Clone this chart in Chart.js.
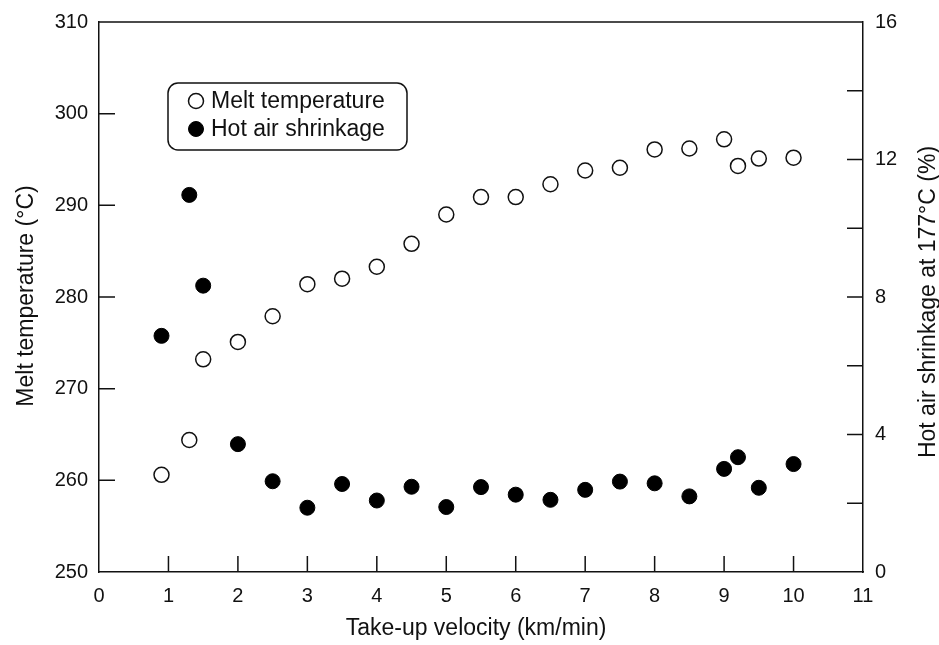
<!DOCTYPE html>
<html lang="en">
<head>
<meta charset="UTF-8">
<title>Melt temperature and hot air shrinkage vs take-up velocity</title>
<script src="https://cdn.jsdelivr.net/npm/chart.js"></script>
<style>
  html, body { margin: 0; padding: 0; background: #fff; }
  #wrap { width: 939px; height: 645px; }
</style>
</head>
<body>
<div id="wrap"><canvas id="chart"></canvas></div>
<script>
// take-up velocity (km/min), shared by both series
const velocity = [0.9, 1.3, 1.5, 2.0, 2.5, 3.0, 3.5, 4.0, 4.5, 5.0, 5.5, 6.0, 6.5, 7.0, 7.5, 8.0, 8.5, 9.0, 9.2, 9.5, 10.0];
// melt temperature (°C), left axis
const meltTemp = [260.6, 264.4, 273.2, 275.1, 277.9, 281.4, 282.0, 283.3, 285.8, 289.0, 290.9, 290.9, 292.3, 293.8, 294.1, 296.1, 296.2, 297.2, 294.3, 295.1, 295.2];
// hot air shrinkage at 177°C (%), right axis
const shrinkage = [6.87, 10.97, 8.33, 3.72, 2.64, 1.87, 2.56, 2.08, 2.48, 1.89, 2.47, 2.25, 2.10, 2.39, 2.63, 2.58, 2.20, 3.00, 3.34, 2.45, 3.14];

// inward tick marks
const xTickMarks = [1, 2, 3, 4, 5, 6, 7, 8, 9, 10];
const leftTickMarks = [260, 270, 280, 290, 300];
const rightTickMarks = [2, 4, 6, 8, 10, 12, 14];

const xTitle = 'Take-up velocity (km/min)';
const leftTitle = 'Melt temperature (°C)';
const rightTitle = 'Hot air shrinkage at 177°C (%)';

const FONT = "'Liberation Sans', Arial, Helvetica, sans-serif";
const INK = '#111';

Chart.defaults.font.family = FONT;
Chart.defaults.color = INK;

const toXY = (ys) => velocity.map((x, i) => ({ x, y: ys[i] }));

const frame = {
  id: 'frame',
  beforeDatasetsDraw(chart) {
    const { ctx, chartArea: a, scales } = chart;
    const len = 16;
    ctx.save();
    ctx.strokeStyle = INK;
    ctx.lineWidth = 1.5;
    ctx.beginPath();
    // top edge of the box
    ctx.moveTo(a.left, a.top);
    ctx.lineTo(a.right, a.top);
    xTickMarks.forEach(v => {
      const px = scales.x.getPixelForValue(v);
      ctx.moveTo(px, a.bottom);
      ctx.lineTo(px, a.bottom - len);
    });
    leftTickMarks.forEach(v => {
      const py = scales.y.getPixelForValue(v);
      ctx.moveTo(a.left, py);
      ctx.lineTo(a.left + len, py);
    });
    rightTickMarks.forEach(v => {
      const py = scales.y1.getPixelForValue(v);
      ctx.moveTo(a.right, py);
      ctx.lineTo(a.right - len, py);
    });
    ctx.stroke();
    ctx.restore();
  },
  afterDraw(chart) {
    const { ctx, chartArea: a } = chart;
    ctx.save();
    ctx.fillStyle = INK;
    ctx.font = '23px ' + FONT;
    ctx.textBaseline = 'alphabetic';
    ctx.textAlign = 'center';
    ctx.fillText(xTitle, 476, 635);

    ctx.save();
    ctx.translate(33, 296);
    ctx.rotate(-Math.PI / 2);
    ctx.fillText(leftTitle, 0, 0);
    ctx.restore();

    ctx.save();
    ctx.translate(935, 302);
    ctx.rotate(-Math.PI / 2);
    ctx.fillText(rightTitle, 0, 0);
    ctx.restore();

    // legend box
    const lx = a.left + 69, ly = a.top + 61, lw = 239, lh = 67;
    ctx.lineWidth = 1.5;
    ctx.strokeStyle = INK;
    ctx.beginPath();
    ctx.roundRect(lx, ly, lw, lh, 10);
    ctx.stroke();

    ctx.textAlign = 'left';
    ctx.textBaseline = 'middle';
    chart.data.datasets.forEach((ds, i) => {
      const cy = ly + 18 + i * 28;
      const cx = lx + 28;
      ctx.beginPath();
      ctx.arc(cx, cy, ds.pointRadius, 0, Math.PI * 2);
      ctx.fillStyle = ds.pointBackgroundColor;
      ctx.fill();
      ctx.lineWidth = ds.pointBorderWidth;
      ctx.strokeStyle = ds.pointBorderColor;
      ctx.stroke();
      ctx.fillStyle = INK;
      ctx.fillText(ds.label, cx + 15, cy + 1);
    });
    ctx.restore();
  }
};

new Chart(document.getElementById('chart'), {
  type: 'scatter',
  data: {
    datasets: [
      {
        label: 'Melt temperature',
        data: toXY(meltTemp),
        yAxisID: 'y',
        pointStyle: 'circle',
        pointRadius: 7.5,
        pointHoverRadius: 7.5,
        pointBackgroundColor: '#fff',
        pointBorderColor: INK,
        pointBorderWidth: 1.5
      },
      {
        label: 'Hot air shrinkage',
        data: toXY(shrinkage),
        yAxisID: 'y1',
        pointStyle: 'circle',
        pointRadius: 7.5,
        pointHoverRadius: 7.5,
        pointBackgroundColor: '#000',
        pointBorderColor: '#000',
        pointBorderWidth: 1
      }
    ]
  },
  options: {
    responsive: true,
    maintainAspectRatio: false,
    animation: false,
    layout: { padding: { top: 22, left: 0, right: 0, bottom: 0 } },
    plugins: {
      legend: { display: false },
      tooltip: { enabled: false }
    },
    scales: {
      x: {
        type: 'linear',
        min: 0,
        max: 11,
        grid: { display: false },
        border: { display: true, color: INK, width: 1.5 },
        ticks: { stepSize: 1, padding: 4, font: { size: 20 }, color: INK },
        afterFit: (s) => { s.height = 73; }
      },
      y: {
        type: 'linear',
        position: 'left',
        min: 250,
        max: 310,
        grid: { display: false },
        border: { display: true, color: INK, width: 1.5 },
        ticks: { stepSize: 10, padding: 3, font: { size: 20 }, color: INK },
        afterFit: (s) => { s.width = 99; }
      },
      y1: {
        type: 'linear',
        position: 'right',
        min: 0,
        max: 16,
        grid: { display: false },
        border: { display: true, color: INK, width: 1.5 },
        ticks: { stepSize: 4, padding: 4, font: { size: 20 }, color: INK },
        afterFit: (s) => { s.width = 76; }
      }
    }
  },
  plugins: [frame]
});
</script>
</body>
</html>
